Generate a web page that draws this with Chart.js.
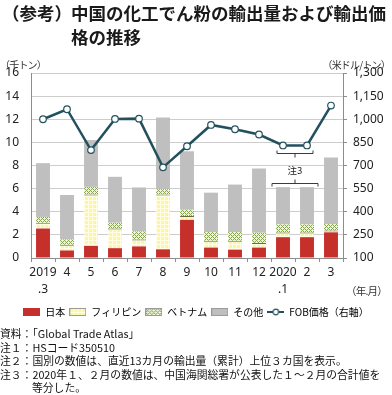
<!DOCTYPE html>
<html>
<head>
  <meta charset="utf-8">
  <title>中国の化工でん粉の輸出量および輸出価格の推移</title>
  <script src="https://cdn.jsdelivr.net/npm/chart.js"></script>
  <style>
    body { margin: 0; width: 392px; height: 395px; background: #fff; position: relative; overflow: hidden;
           font-family: "Noto Sans CJK JP", sans-serif; color: #1a1a1a; }
    #myChart { position: absolute; left: 0; top: 0; }
    .txt { position: absolute; white-space: nowrap; }
    .ttl { font-weight: bold; font-size: 17.5px; line-height: 24px; top: 1px; }
    .unit { font-size: 10px; letter-spacing: -0.8px; color: #333; }
    #notes { left: 0; top: 327px; font-size: 10.8px; line-height: 13.6px; color: #111; }
  </style>
</head>
<body>
  <canvas id="myChart" width="392" height="327"></canvas>
  <div class="txt ttl" style="left:2px">（参考）</div>
  <div class="txt ttl" style="left:71px">中国の化工でん粉の輸出量および輸出価<br>格の推移</div>
  <div class="txt unit" style="left:0;top:57px">（千トン）</div>
  <div class="txt unit" style="right:2px;top:57px">（米ドル/トン）</div>
  <div class="txt unit" style="left:346px;top:283px;font-size:10.5px">（年.月）</div>
  <div class="txt" id="notes">
    <div>資料：「Global Trade Atlas」</div>
    <div>注１：HSコード350510</div>
    <div>注２：国別の数値は、直近13カ月の輸出量（累計）上位３カ国を表示。</div>
    <div>注３：2020年１、２月の数値は、中国海関総署が公表した１～２月の合計値を</div>
    <div style="padding-left:32px">等分した。</div>
  </div>
  <script>
    // data (千トン / 米ドル/トン)
    const months = [['2019', '.3'], '4', '5', '6', '7', '8', '9', '10', '11', '12', ['2020', '.1'], '2', '3'];
    const japan = [2.55, 0.65, 1.05, 0.85, 1.0, 0.75, 3.3, 0.9, 0.72, 0.9, 1.8, 1.8, 2.22];
    const philippines = [0.5, 0.5, 4.45, 1.7, 0.6, 4.75, 0.33, 0.6, 0.78, 0.4, 0.4, 0.4, 0.15];
    const vietnam = [0.5, 0.45, 0.65, 0.5, 0.7, 0.45, 0.55, 0.75, 0.75, 0.88, 0.7, 0.7, 0.58];
    const others = [4.65, 3.85, 4.05, 3.97, 3.8, 6.2, 5.05, 3.4, 4.1, 5.55, 3.23, 3.23, 5.75];
    const fobPrice = [1000, 1065, 800, 1002, 1004, 688, 825, 963, 935, 901, 830, 830, 1089];
    const seriesNames = ['日本', 'フィリピン', 'ベトナム', 'その他', 'FOB価格（右軸）'];

    const lineColor = '#22515d';

    // fill patterns for the Philippines / Vietnam segments
    function tile(draw) {
      const c = document.createElement('canvas');
      c.width = 4; c.height = 4;
      draw(c.getContext('2d'));
      return c;
    }
    const yellowTile = tile(g => {
      g.fillStyle = '#fbf6a4'; g.fillRect(0, 0, 4, 4);
      g.fillStyle = '#fffde6'; g.fillRect(0, 0, 4, 1); g.fillRect(0, 0, 1, 4);
    });
    const greenTile = tile(g => {
      g.fillStyle = '#eef4dc'; g.fillRect(0, 0, 4, 4);
      g.fillStyle = '#86a648';
      for (let x = 0; x < 4; x++) for (let y = 0; y < 4; y++)
        if ((x + y) % 4 === 0 || (x - y + 4) % 4 === 0) g.fillRect(x, y, 1, 1);
    });
    const ctx = document.getElementById('myChart').getContext('2d');
    const yellowFill = ctx.createPattern(yellowTile, 'repeat');
    const greenFill = ctx.createPattern(greenTile, 'repeat');

    // legend swatches
    function swatch(kind, fill) {
      const c = document.createElement('canvas');
      c.width = 17; c.height = 8;
      const g = c.getContext('2d');
      if (kind === 'line') {
        g.strokeStyle = lineColor; g.lineWidth = 2;
        g.beginPath(); g.moveTo(0, 4); g.lineTo(17, 4); g.stroke();
        g.fillStyle = '#fff'; g.lineWidth = 1.2;
        g.beginPath(); g.arc(8.5, 4, 2.8, 0, Math.PI * 2); g.fill(); g.stroke();
      } else {
        g.fillStyle = kind === 'yellow' ? g.createPattern(yellowTile, 'repeat')
                    : kind === 'green' ? g.createPattern(greenTile, 'repeat') : fill;
        g.fillRect(0, 0, 17, 8);
        if (kind !== 'red') { g.strokeStyle = '#9a9a9a'; g.lineWidth = 1; g.strokeRect(0.5, 0.5, 16, 7); }
      }
      return c;
    }
    const swatches = [swatch('red', '#c5302b'), swatch('yellow'), swatch('green'), swatch('gray', '#bfbfbf'), swatch('line')];

    // 注3 brackets around the 2020.1 / 2 columns
    const note3 = {
      id: 'note3',
      afterDatasetsDraw(chart) {
        const g = chart.ctx, x = chart.scales.x, yl = chart.scales.y, yr = chart.scales.y1;
        const xa = x.getPixelForValue(10), xb = x.getPixelForValue(11), mid = (xa + xb) / 2;
        g.save();
        g.strokeStyle = '#3a3a3a'; g.lineWidth = 1;
        let yy = Math.round(yr.getPixelForValue(782)) + 0.5;
        g.beginPath();
        g.moveTo(xa - 6, yy - 3); g.lineTo(xa - 6, yy); g.lineTo(xb + 6, yy); g.lineTo(xb + 6, yy - 3);
        g.moveTo(mid, yy); g.lineTo(mid, yy + 4);
        g.stroke();
        yy = Math.round(yl.getPixelForValue(6.5)) + 0.5;
        g.beginPath();
        g.moveTo(xa - 11, yy + 3); g.lineTo(xa - 11, yy); g.lineTo(xb + 11, yy); g.lineTo(xb + 11, yy + 3);
        g.moveTo(mid, yy); g.lineTo(mid, yy - 4);
        g.stroke();
        g.fillStyle = '#222';
        g.font = '9.5px "Noto Sans CJK JP"';
        g.textAlign = 'center'; g.textBaseline = 'middle';
        g.fillText('注3', mid, yl.getPixelForValue(7.55));
        g.restore();
      }
    };

    const bar = (label, data, color, extra) => Object.assign({
      type: 'bar', label, data, backgroundColor: color, yAxisID: 'y', stack: 's',
      barPercentage: 0.58, categoryPercentage: 1, borderWidth: 0, order: 2
    }, extra || {});

    new Chart(ctx, {
      data: {
        labels: months,
        datasets: [
          bar(seriesNames[0], japan, '#c5302b'),
          bar(seriesNames[1], philippines, yellowFill, { borderColor: '#6e6a3e', borderWidth: { top: 1, right: 0, bottom: 0, left: 0 }, borderSkipped: false }),
          bar(seriesNames[2], vietnam, greenFill),
          bar(seriesNames[3], others, '#bfbfbf'),
          {
            type: 'line', label: seriesNames[4], data: fobPrice, yAxisID: 'y1', order: 1,
            borderColor: lineColor, borderWidth: 2.5, tension: 0,
            pointRadius: 3.3, pointBackgroundColor: '#fff', pointBorderColor: lineColor, pointBorderWidth: 1.2
          }
        ]
      },
      options: {
        responsive: false,
        animation: false,
        layout: { padding: { top: 73, left: 0, right: 0, bottom: 0 } },
        font: { family: '"Noto Sans", "Noto Sans CJK JP", sans-serif' },
        scales: {
          x: {
            stacked: true,
            grid: { offset: true, drawOnChartArea: false, drawTicks: true, tickLength: 4, color: '#8c8c8c' },
            border: { color: '#8c8c8c' },
            ticks: { padding: 2, color: '#222', maxRotation: 0, autoSkip: false,
                     font: { size: 12, lineHeight: 1.42 } },
            afterFit: s => { s.height = 45; }
          },
          y: {
            stacked: true, position: 'left', min: 0, max: 16,
            grid: { color: '#cdcdcd', drawTicks: false },
            border: { color: '#8c8c8c' },
            ticks: { stepSize: 2, padding: 12, color: '#222', font: { size: 12 } },
            afterFit: s => { s.width = 31; }
          },
          y1: {
            position: 'right', min: 100, max: 1300,
            grid: { drawOnChartArea: false, tickLength: 4, color: '#8c8c8c' },
            border: { color: '#8c8c8c' },
            ticks: { stepSize: 150, padding: 6, color: '#222', font: { size: 12 },
                     callback: v => v.toLocaleString('en-US') },
            afterFit: s => { s.width = 49; }
          }
        },
        plugins: {
          legend: {
            position: 'bottom', fullSize: true,
            labels: {
              usePointStyle: true, pointStyleWidth: 17, padding: 4, color: '#222',
              font: { size: 10, family: '"Noto Sans CJK JP"' },
              generateLabels: chart => chart.data.datasets.map((d, i) => ({
                text: d.label, pointStyle: swatches[i], datasetIndex: i,
                fillStyle: 'transparent', strokeStyle: 'transparent', lineWidth: 0, hidden: false
              }))
            }
          },
          tooltip: { enabled: false }
        }
      },
      plugins: [note3]
    });
  </script>
</body>
</html>
